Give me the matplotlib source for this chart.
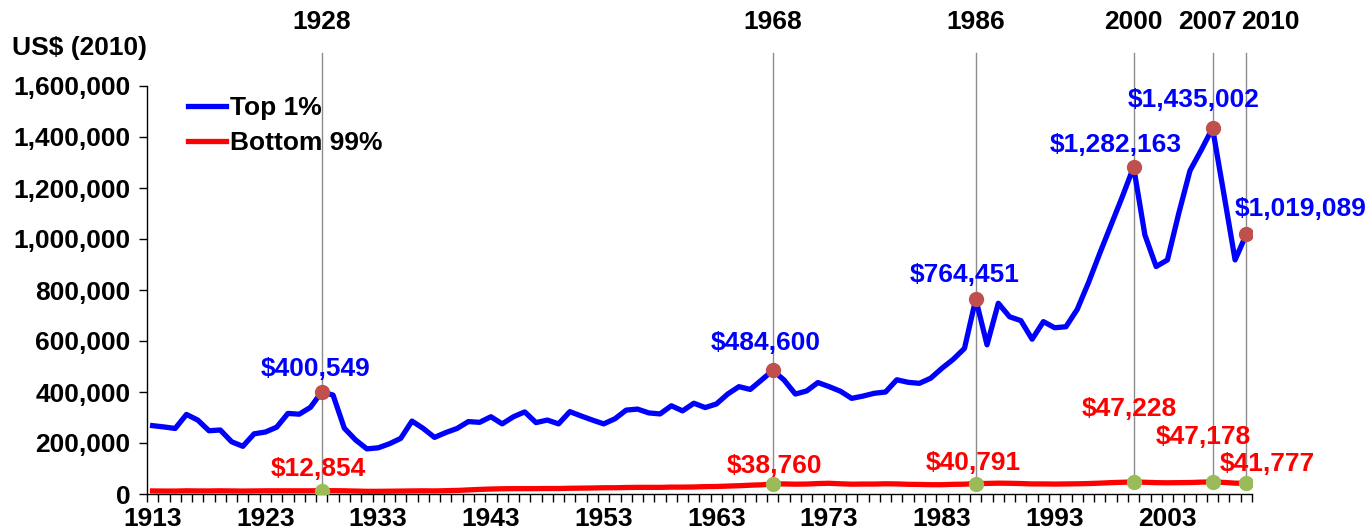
import matplotlib.pyplot as plt
from matplotlib.ticker import FuncFormatter, MultipleLocator, FixedLocator

plt.rcParams['font.family'] = ['Liberation Sans', 'DejaVu Sans']
plt.rcParams['font.weight'] = 'bold'

# Data
years = list(range(1913, 2011))
top1 = [
    268000, 263000, 257000, 312000, 290000, 248000, 251000, 205000, 187000, 236000,
    243000, 262000, 316000, 313000, 340000, 400549, 388000, 258000, 212000, 177000,
    181000, 197000, 218000, 286000, 257000, 222000, 241000, 257000, 284000, 281000,
    303000, 275000, 303000, 322000, 280000, 290000, 275000, 323000, 306000, 290000,
    275000, 295000, 329000, 333000, 318000, 314000, 346000, 326000, 356000, 339000,
    353000, 392000, 421000, 410000, 447000, 484600, 447000, 392000, 404000, 437000,
    421000, 403000, 375000, 384000, 395000, 400000, 448000, 438000, 434000, 454000,
    493000, 528000, 571000, 764451, 585000, 748000, 695000, 680000, 607000, 676000,
    652000, 656000, 724000, 829000, 944000, 1055000, 1166000, 1282163, 1016000, 892000,
    918000, 1100000, 1268000, 1349000, 1435002, 1178000, 918000, 1019089,
]
bottom99 = [
    12000, 11500, 11500, 12500, 12000, 12000, 12500, 12000, 11500, 12000,
    12500, 12500, 12500, 12500, 12500, 12854, 13000, 12500, 11500, 10500,
    10500, 11000, 11500, 12000, 12500, 12000, 13000, 14000, 16000, 18000,
    19500, 20500, 21000, 21000, 21000, 21500, 21500, 22500, 23000, 23500,
    24500, 24500, 25500, 26000, 26000, 26000, 27000, 27000, 27500, 29000,
    29500, 31000, 32500, 34500, 36000, 38760, 39500, 38500, 39000, 41000,
    42000, 40000, 38500, 39000, 39000, 40000, 39500, 38000, 37500, 36500,
    36500, 38000, 38500, 40791, 41500, 42500, 42000, 41000, 39500, 39500,
    39000, 39500, 40000, 41000, 42500, 44500, 46000, 47228, 46000, 44500,
    44000, 44500, 45000, 46500, 47178, 45500, 42500, 41777,
]
mark_years = [1928, 1968, 1986, 2000, 2007, 2010]

# label offsets in pixels (dx, dy) for top / bottom annotations
top_off = {1928: (-6, 23), 1968: (-7, 27), 1986: (-11, 24),
           2000: (-18, 22), 2007: (-19, 28), 2010: (54, 25)}
bot_off = {1928: (-3, 22), 1968: (2, 18), 1986: (-2, 21),
           2000: (-4, 73), 2007: (-9, 45), 2010: (21, 19)}
year_dx = {1928: 0, 1968: 0, 1986: 0, 2000: 0, 2007: -5, 2010: 24}

FS = 19

fig = plt.figure(figsize=(13.7, 5.3), dpi=100)
ax = fig.add_axes([147 / 1370, 1 - 494 / 530, 1105 / 1370, 408 / 530])

# vertical guide lines
for y in mark_years:
    i = years.index(y)
    ax.axvline(y, ymin=bottom99[i] / 1.6e6, ymax=441 / 408, color='#8c8c8c',
               lw=1.0, clip_on=False, zorder=1)

ax.plot(years, top1, color='#0000ff', lw=3.8, label='Top 1%', zorder=3,
        solid_joinstyle='round')
ax.plot(years, bottom99, color='#ff0000', lw=3.8, label='Bottom 99%', zorder=3,
        solid_joinstyle='round')

px = 0.72  # pixels -> points
for y in mark_years:
    i = years.index(y)
    ax.plot(y, top1[i], 'o', color='#c0504d', ms=10, zorder=4)
    ax.plot(y, bottom99[i], 'o', color='#9bbb59', ms=10, zorder=4)
    dx, dy = top_off[y]
    ax.annotate('${:,}'.format(top1[i]), (y, top1[i]), xytext=(dx * px, dy * px),
                textcoords='offset points', ha='center', va='center',
                color='#0000ff', fontsize=FS, fontweight='bold', zorder=5)
    dx, dy = bot_off[y]
    ax.annotate('${:,}'.format(bottom99[i]), (y, bottom99[i]), xytext=(dx * px, dy * px),
                textcoords='offset points', ha='center', va='center',
                color='#ff0000', fontsize=FS, fontweight='bold', zorder=5)
    ax.annotate(str(y), (y, 1.0), xycoords=('data', 'axes fraction'),
                xytext=(year_dx[y] * px, (494 - 22 - 408) * px),
                textcoords='offset points', ha='center', va='center',
                fontsize=FS, fontweight='bold', annotation_clip=False)

ax.set_xlim(1912.5, 2010.5)
ax.set_ylim(0, 1600000)
ax.yaxis.set_major_locator(MultipleLocator(200000))
ax.yaxis.set_major_formatter(FuncFormatter(lambda v, p: '{:,.0f}'.format(v)))
ax.xaxis.set_major_locator(FixedLocator(list(range(1913, 2010, 10))))
ax.xaxis.set_minor_locator(FixedLocator([y - 0.5 for y in years] + [2010.5]))
ax.tick_params(axis='x', which='major', length=0, labelsize=FS, pad=9)
ax.tick_params(axis='x', which='minor', length=6, width=1, direction='out')
ax.tick_params(axis='y', length=6, width=1, direction='out', labelsize=FS, pad=6)
for lab in ax.get_xticklabels() + ax.get_yticklabels():
    lab.set_fontweight('bold')

for s in ['top', 'right']:
    ax.spines[s].set_visible(False)
for s in ['left', 'bottom']:
    ax.spines[s].set_linewidth(1.0)

leg = ax.legend(loc='upper left', bbox_to_anchor=(0.037, 0.975), frameon=False,
                handlelength=1.45, handletextpad=0.15, labelspacing=0.4,
                borderpad=0, borderaxespad=0,
                prop={'size': FS, 'weight': 'bold'})

fig.text(80 / 1370, 1 - 48 / 530, 'US$ (2010)', ha='center', va='center',
         fontsize=FS, fontweight='bold')

fig.savefig('out.png', dpi=100)
